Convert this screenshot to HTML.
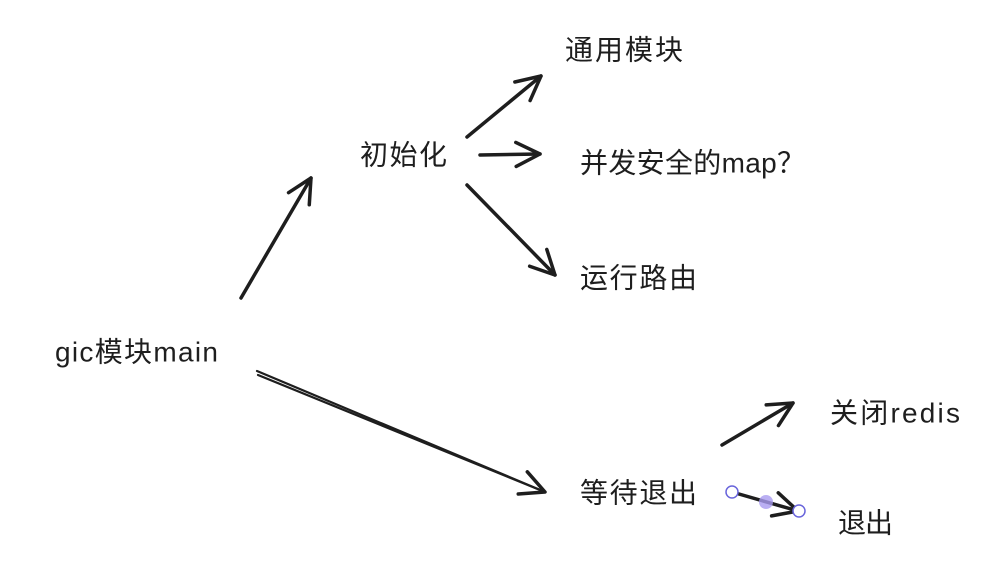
<!DOCTYPE html>
<html><head><meta charset="utf-8"><style>
html,body{margin:0;padding:0;background:#fff;}
svg{display:block}
text{font-family:"Liberation Sans","Noto Sans CJK SC",sans-serif;font-size:28px;fill:#1e1e1e;dominant-baseline:central}
</style></head><body>
<svg width="999" height="582" viewBox="0 0 999 582" xmlns="http://www.w3.org/2000/svg">
<defs>
<marker id="h" markerUnits="userSpaceOnUse" markerWidth="40" markerHeight="40" refX="26" refY="14" orient="auto">
<path d="M2,2 L26,14 L2,26" fill="none" stroke="#1e1e1e" stroke-width="3.5" stroke-linecap="round" stroke-linejoin="round"/>
</marker>
</defs>
<g stroke="#1e1e1e" stroke-width="3.5" stroke-linecap="round" fill="none">
<line x1="241" y1="298" x2="311" y2="178" marker-end="url(#h)"/>
<line x1="467" y1="137" x2="541" y2="76" marker-end="url(#h)"/>
<line x1="480" y1="155" x2="540" y2="154" marker-end="url(#h)"/>
<line x1="467" y1="185" x2="555" y2="275" marker-end="url(#h)"/>
<line x1="257" y1="371" x2="545" y2="492" stroke-width="2.2"/>
<line x1="258" y1="375" x2="545" y2="492" stroke-width="2.2" marker-end="url(#h)"/>
<line x1="722" y1="445" x2="793" y2="403" marker-end="url(#h)"/>
<line x1="732" y1="492" x2="798" y2="511" marker-end="url(#h)"/>
</g>
<circle cx="766" cy="502" r="7" fill="#a99bf0" opacity="0.8"/>
<circle cx="732" cy="492" r="6" fill="#fff" stroke="#6965db" stroke-width="1.5"/>
<circle cx="799" cy="511" r="6" fill="#fff" stroke="#6965db" stroke-width="1.5"/>
<text x="55" y="352" textLength="163" lengthAdjust="spacing">gic模块main</text>
<text x="360" y="155" textLength="87" lengthAdjust="spacing">初始化</text>
<text x="565" y="50" textLength="118" lengthAdjust="spacing">通用模块</text>
<text x="580" y="163" textLength="225" lengthAdjust="spacing">并发安全的map？</text>
<text x="580" y="278" textLength="117" lengthAdjust="spacing">运行路由</text>
<text x="580" y="493" textLength="117" lengthAdjust="spacing">等待退出</text>
<text x="830" y="413" textLength="130" lengthAdjust="spacing">关闭redis</text>
<text x="838" y="523" textLength="55" lengthAdjust="spacing">退出</text>
</svg>
</body></html>
